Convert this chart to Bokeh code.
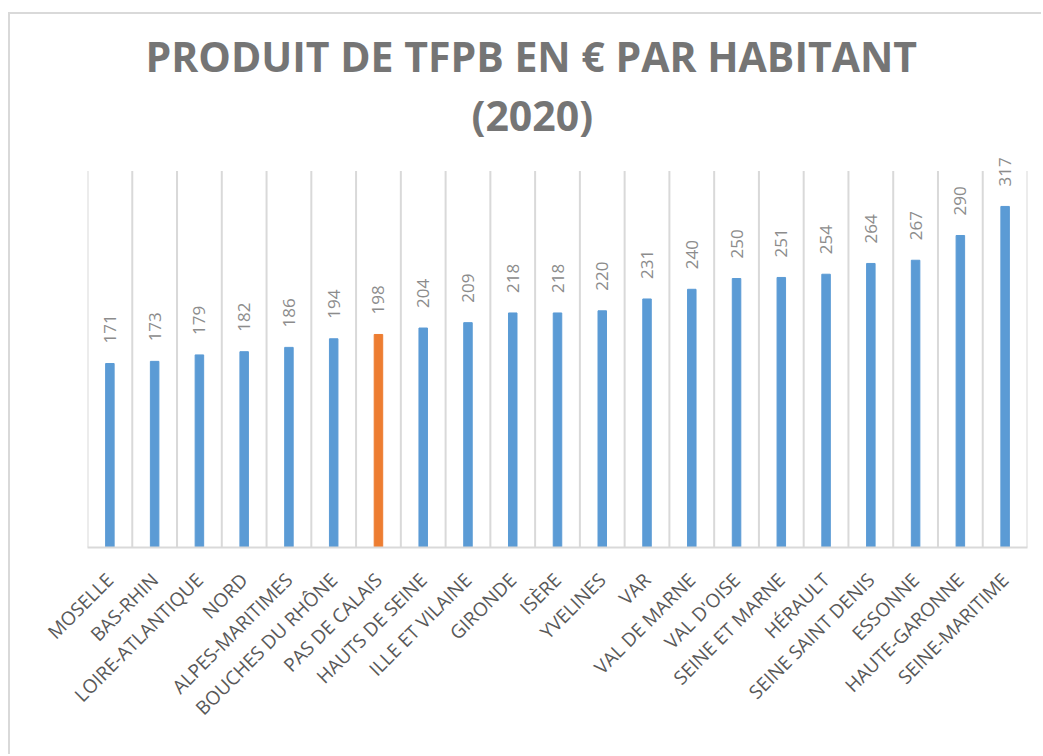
import math
from bokeh.plotting import figure
from bokeh.models import ColumnDataSource, Range1d, FactorRange, Title
from bokeh.core.properties import value
from bokeh.embed import file_html
from bokeh.resources import INLINE

departements = ["MOSELLE", "BAS-RHIN", "LOIRE-ATLANTIQUE", "NORD", "ALPES-MARITIMES",
                "BOUCHES DU RHÔNE", "PAS DE CALAIS", "HAUTS DE SEINE", "ILLE ET VILAINE",
                "GIRONDE", "ISÈRE", "YVELINES", "VAR", "VAL DE MARNE", "VAL D'OISE",
                "SEINE ET MARNE", "HÉRAULT", "SEINE SAINT DENIS", "ESSONNE",
                "HAUTE-GARONNE", "SEINE-MARITIME"]
produit = [171, 173, 179, 182, 186, 194, 198, 204, 209, 218, 218, 220, 231, 240,
           250, 251, 254, 264, 267, 290, 317]
highlight = "PAS DE CALAIS"
title_line1 = "PRODUIT DE TFPB EN € PAR HABITANT"
title_line2 = "(2020)"

BLUE = "#5B9BD5"
ORANGE = "#ED7D31"
colors = [ORANGE if d == highlight else BLUE for d in departements]

src = ColumnDataSource(dict(x=departements, top=produit, color=colors,
                            lab=[str(v) for v in produit]))

p = figure(width=1033, height=742, x_range=FactorRange(*departements),
           y_range=Range1d(0, 369), output_backend="svg", toolbar_location=None,
           min_border_left=77, min_border_right=16, min_border_top=136,
           min_border_bottom=209,
           title=title_line1)
p.styles = {"margin-left": "8px", "margin-top": "12px",
            "border-left": "2px solid #d9d9d9", "border-top": "2px solid #d9d9d9"}
p.x_range.range_padding = 0
p.outline_line_color = None
p.yaxis.visible = False
p.xgrid.grid_line_color = None
p.ygrid.grid_line_color = None

# category boundary lines
bounds = list(range(len(departements) + 1))
p.segment(x0=bounds, y0=[0] * len(bounds), x1=bounds, y1=[350] * len(bounds),
          line_color="#d9d9d9", line_width=2)

p.vbar(x="x", top="top", width=0.19, color="color", source=src)

p.text(x="x", y="top", text="lab", source=src, angle=math.pi / 2,
       text_align="left", text_baseline="middle", y_offset=-20,
       text_color="#8c8c8c", text_font_size="17px", text_font=value("Open Sans"))

p.xaxis.major_label_orientation = math.pi / 4
p.xaxis.major_label_text_font = "Open Sans"
p.xaxis.major_label_text_font_size = "19px"
p.xaxis.major_label_text_color = "#595959"
p.xaxis.major_label_standoff = 23
p.xaxis.axis_line_color = "#d9d9d9"
p.xaxis.axis_line_width = 2
p.xaxis.major_tick_line_color = None
p.xaxis.minor_tick_line_color = None

p.title.align = "left"
p.title.offset = 58
p.title.text_font = "Open Sans"
p.title.text_font_style = "bold"
p.title.text_font_size = "41px"
p.title.text_color = "#757575"
p.title.standoff = -12

t2 = Title(text=title_line2, align="left", offset=384, text_font="Open Sans",
           text_font_style="bold", text_font_size="41px", text_color="#757575",
           standoff=15)
p.add_layout(t2, "above")

open("out.html", "w").write(file_html(p, INLINE))
